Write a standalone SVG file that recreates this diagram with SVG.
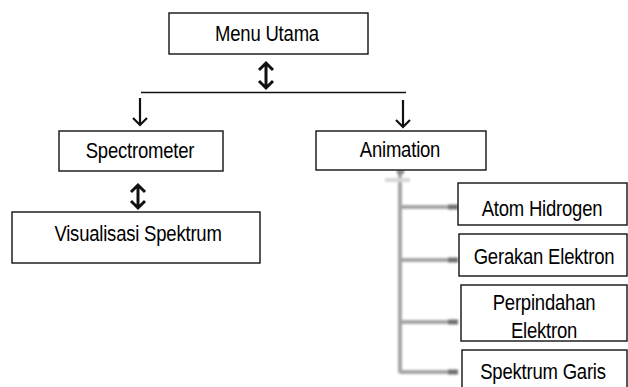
<svg xmlns="http://www.w3.org/2000/svg" width="628" height="387" viewBox="0 0 628 387">
<style>
.box{fill:#fff;stroke:#111;stroke-width:1.4}
.t{font-family:"Liberation Sans",Arial,sans-serif;font-size:18.5px;fill:#000;text-anchor:middle;letter-spacing:-0.2px}
.ln{fill:none;stroke:#111;stroke-width:1.6}
.ar{fill:none;stroke:#111;stroke-width:2.2}
.dar{fill:none;stroke:#111;stroke-width:3}
.tree{fill:none;stroke:#a6a6a6;stroke-width:4}
</style>
<defs>
<filter id="blur" x="-20%" y="-20%" width="140%" height="140%"><feGaussianBlur stdDeviation="1"/></filter>
</defs>
<rect width="628" height="387" fill="#fff"/>
<g id="connectors">
<path class="dar" d="M266 64V87M259 70L266 63L273 70M259 81L266 88L273 81"/>
<path class="ln" d="M141 92.5H406"/>
<path class="ar" d="M140 98V125M133 118L140 125L147 118"/>
<path class="ar" d="M403 100V127M396 120L403 127L410 120"/>
<path class="dar" d="M138 186V207M131 192L138 185L145 192M131 201L138 208L145 201"/>
<g filter="url(#blur)">
<path class="tree" d="M400 171V373M400 207H456M400 260H456M400 322H456M400 372H456"/>
<path d="M385 180H410" stroke="#d8d8d8" stroke-width="4" fill="none"/>
<path d="M397 172H404" stroke="#888" stroke-width="4" fill="none"/>
<path d="M448 207H458M448 260H458M448 322H458M448 372H458" stroke="#707070" stroke-width="5" fill="none"/>
</g>
</g>
<g id="menu-utama">
<rect class="box" x="169" y="13" width="199" height="41"/>
<text class="t" transform="translate(267,41) scale(1,1.18)">Menu Utama</text>
</g>
<g id="spectrometer">
<rect class="box" x="59" y="131" width="164" height="40"/>
<text class="t" transform="translate(140,158) scale(1,1.18)">Spectrometer</text>
</g>
<g id="animation">
<rect class="box" x="316" y="131" width="170" height="39"/>
<text class="t" transform="translate(400,157) scale(1,1.18)">Animation</text>
</g>
<g id="visualisasi-spektrum">
<rect class="box" x="12" y="212" width="248" height="51"/>
<text class="t" transform="translate(138,241) scale(1,1.18)">Visualisasi Spektrum</text>
</g>
<g id="atom-hidrogen">
<rect class="box" x="458" y="183" width="169" height="42"/>
<text class="t" transform="translate(542,216) scale(1,1.18)">Atom Hidrogen</text>
</g>
<g id="gerakan-elektron">
<rect class="box" x="459" y="234" width="168" height="42"/>
<text class="t" transform="translate(544,264) scale(1,1.18)">Gerakan Elektron</text>
</g>
<g id="perpindahan-elektron">
<rect class="box" x="461" y="285" width="166" height="56"/>
<text class="t" transform="translate(544,310) scale(1,1.18)">Perpindahan</text>
<text class="t" transform="translate(544,338) scale(1,1.18)">Elektron</text>
</g>
<g id="spektrum-garis">
<rect class="box" x="462" y="350" width="165" height="40"/>
<text class="t" transform="translate(543,379) scale(1,1.18)">Spektrum Garis</text>
</g>
</svg>
